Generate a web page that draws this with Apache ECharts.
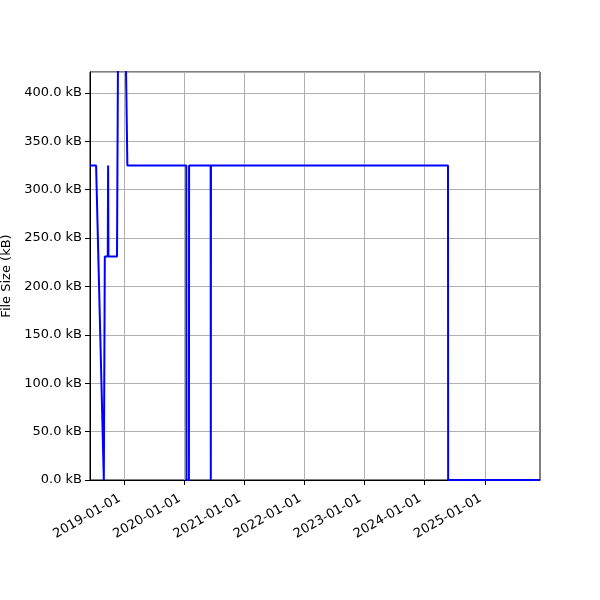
<!DOCTYPE html>
<html>
<head>
<meta charset="utf-8">
<script src="https://cdn.jsdelivr.net/npm/echarts@6/dist/echarts.min.js"></script>
<style>
  html, body { margin: 0; padding: 0; background: #fff; }
  #main { width: 600px; height: 600px; }
</style>
</head>
<body>
<div id="main"></div>
<script>
// file size history (kB)
var dates = ['2018-06-08', '2018-07-15', '2018-08-31', '2018-09-06', '2018-09-24', '2018-09-26',
    '2018-09-28', '2018-11-19', '2018-11-26', '2019-01-09', '2019-01-21', '2020-01-14',
    '2020-01-15', '2020-01-30', '2020-01-31', '2020-06-10', '2020-06-11', '2020-06-12',
    '2024-05-22', '2024-05-23', '2025-12-02'];
var sizes = [325, 325, 0, 231, 231, 325,
    231, 231, 470, 470, 325, 325,
    0, 0, 325, 325, 0, 325,
    325, 0, 0];
var tickDates = ['2019-01-01', '2020-01-01', '2021-01-01', '2022-01-01', '2023-01-01', '2024-01-01', '2025-01-01'];
var xMin = '2018-06-08', xMax = '2025-12-02';
var yMax = 421.7;

var chart = echarts.init(document.getElementById('main'));
var font = 'DejaVu Sans';
var tickVals = tickDates.map(function (d) { return Date.parse(d); });

var option = {
    animation: false,
    textStyle: {fontFamily: font},
    grid: {
        left: 90, right: 60, top: 72, bottom: 120,
        outerBoundsMode: 'none',
        containLabel: false,
        show: true, borderColor: '#000', borderWidth: 1
    },
    xAxis: {
        type: 'value',
        min: Date.parse(xMin),
        max: Date.parse(xMax),
        axisLine: {show: true, lineStyle: {color: '#000'}},
        axisTick: {show: true, length: 5, customValues: tickVals, lineStyle: {color: '#000'}},
        splitLine: {show: true, lineStyle: {color: '#b0b0b0', width: 1}},
        axisLabel: {
            customValues: tickVals,
            rotate: 30,
            color: '#000',
            fontSize: 13,
            fontFamily: font,
            margin: 15,
            padding: [0, 5, 0, 0],
            formatter: function (v) {
                var d = new Date(v);
                var m = d.getUTCMonth() + 1, day = d.getUTCDate();
                return d.getUTCFullYear() + '-' + (m < 10 ? '0' : '') + m + '-' + (day < 10 ? '0' : '') + day;
            }
        }
    },
    yAxis: {
        type: 'value',
        min: 0,
        max: yMax,
        interval: 50,
        name: 'File Size (kB)',
        nameLocation: 'middle',
        nameGap: 73,
        nameTextStyle: {color: '#000', fontSize: 13, fontFamily: font},
        axisLine: {show: true, lineStyle: {color: '#000'}},
        axisTick: {show: true, length: 5, lineStyle: {color: '#000'}},
        splitLine: {show: true, lineStyle: {color: '#b0b0b0', width: 1}},
        axisLabel: {
            color: '#000',
            fontSize: 13,
            fontFamily: font,
            margin: 8,
            showMaxLabel: false,
            formatter: function (v) { return v.toFixed(1) + ' kB'; }
        }
    },
    series: [{
        type: 'line',
        data: dates.map(function (d, i) { return [Date.parse(d), sizes[i]]; }),
        showSymbol: false,
        clip: true,
        lineStyle: {color: '#0000ff', width: 2},
        itemStyle: {color: '#0000ff'}
    }]
};
chart.setOption(option);
</script>
</body>
</html>
